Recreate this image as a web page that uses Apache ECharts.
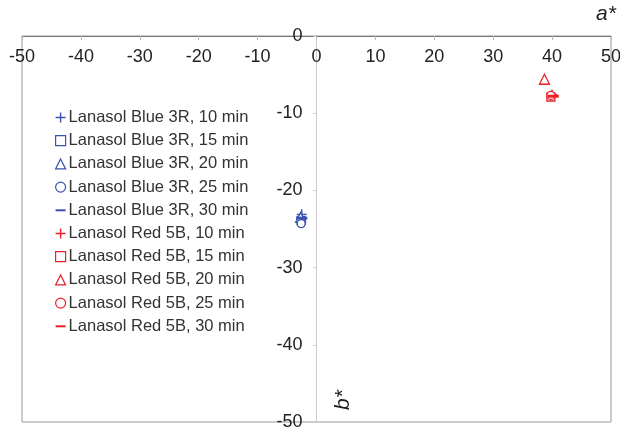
<!DOCTYPE html>
<html><head><meta charset="utf-8">
<script src="https://cdn.jsdelivr.net/npm/echarts@6/dist/echarts.min.js"></script>
<style>html,body{margin:0;padding:0;background:#fff}#c{width:620px;height:429px}</style>
</head><body><div id="c"></div>
<script>
const seriesNames = [
  'Lanasol Blue 3R, 10 min','Lanasol Blue 3R, 15 min','Lanasol Blue 3R, 20 min','Lanasol Blue 3R, 25 min','Lanasol Blue 3R, 30 min',
  'Lanasol Red 5B, 10 min','Lanasol Red 5B, 15 min','Lanasol Red 5B, 20 min','Lanasol Red 5B, 25 min','Lanasol Red 5B, 30 min'
];
const aValues = [-2.5, -2.6, -2.7, -2.6, -2.5, 40.0, 39.8, 38.7, 39.8, 40.2];
const bValues = [-23.1, -23.9, -23.5, -24.3, -23.6, -7.6, -7.9, -5.6, -7.7, -7.8];
const xTicks = [-50, 50, 10];
const yTicks = [-50, 0, 10];

const BLUE = '#3a52b0', RED = '#e8212b';
const PLUS = 'path://M4.3,0H5.7V4.3H10V5.7H5.7V10H4.3V5.7H0V4.3H4.3Z';
const DASH = 'path://M0,0H10V2H0Z';
const shapes = [
  {symbol: PLUS, size: 10, empty: false},
  {symbol: 'rect', size: 8, empty: true},
  {symbol: 'triangle', size: 10, empty: true},
  {symbol: 'circle', size: 8, empty: true},
  {symbol: DASH, size: [11, 3], empty: false}
];
const font = 'Liberation Sans, Arial, sans-serif';

const series = seriesNames.map((name, i) => {
  const col = i < 5 ? BLUE : RED;
  const sh = shapes[i % 5];
  return {
    name, type: 'scatter',
    symbol: sh.symbol, symbolSize: sh.size,
    itemStyle: sh.empty ? {color: '#fff', borderColor: col, borderWidth: 1.3, opacity: 1} : {color: col, opacity: 1},
    data: [[aValues[i], bValues[i]]],
    z: 3
  };
});
const legendData = seriesNames.map((name, i) => {
  const col = i < 5 ? BLUE : RED;
  const sh = shapes[i % 5];
  return {
    name, icon: sh.symbol,
    itemStyle: sh.empty ? {color: '#fff', borderColor: col, borderWidth: 1.2} : {color: col, borderWidth: 0}
  };
});

const GL = 22, GR = 9;
const plotW = 620 - GL - GR;
const yOffset = -plotW * (0 - xTicks[0]) / (xTicks[1] - xTicks[0]);

const chart = echarts.init(document.getElementById('c'));
chart.setOption({
  animation: false,
  textStyle: {fontFamily: font},
  grid: {left: GL, right: GR, top: 36, bottom: 7, containLabel: false, outerBoundsMode: 'none', show: true, borderColor: '#999', borderWidth: 1, backgroundColor: 'transparent'},
  legend: {
    orient: 'vertical', left: 50, top: 104,
    itemWidth: 10, itemHeight: 10, itemGap: 6.2,
    textStyle: {fontSize: 16.5, color: '#333', fontFamily: font, lineHeight: 15, padding: [0,0,0,-2]},
    data: legendData
  },
  xAxis: {
    type: 'value', position: 'top', min: xTicks[0], max: xTicks[1], interval: xTicks[2],
    axisLine: {show: true, lineStyle: {color: '#777', width: 1}},
    axisTick: {show: true, inside: true, length: 4, lineStyle: {color: '#bbb'}},
    axisLabel: {inside: true, margin: 12, fontSize: 18, color: '#222', fontFamily: font},
    splitLine: {show: false}
  },
  yAxis: {
    type: 'value', min: yTicks[0], max: yTicks[1], interval: yTicks[2],
    offset: yOffset,
    axisLine: {show: true, onZero: false, lineStyle: {color: '#ccc', width: 1}},
    axisTick: {show: true, length: 3, lineStyle: {color: '#ccc'}},
    axisLabel: {margin: 14, fontSize: 18, color: '#222', fontFamily: font},
    splitLine: {show: false}
  },
  graphic: [
    {type: 'text', left: 596, top: 4, style: {text: 'a*', font: 'italic 21px ' + font, fill: '#222'}},
    {type: 'text', x: 333, y: 410, rotation: Math.PI / 2, style: {text: 'b*', font: 'italic 21px ' + font, fill: '#222'}}
  ],
  series
});
</script></body></html>
